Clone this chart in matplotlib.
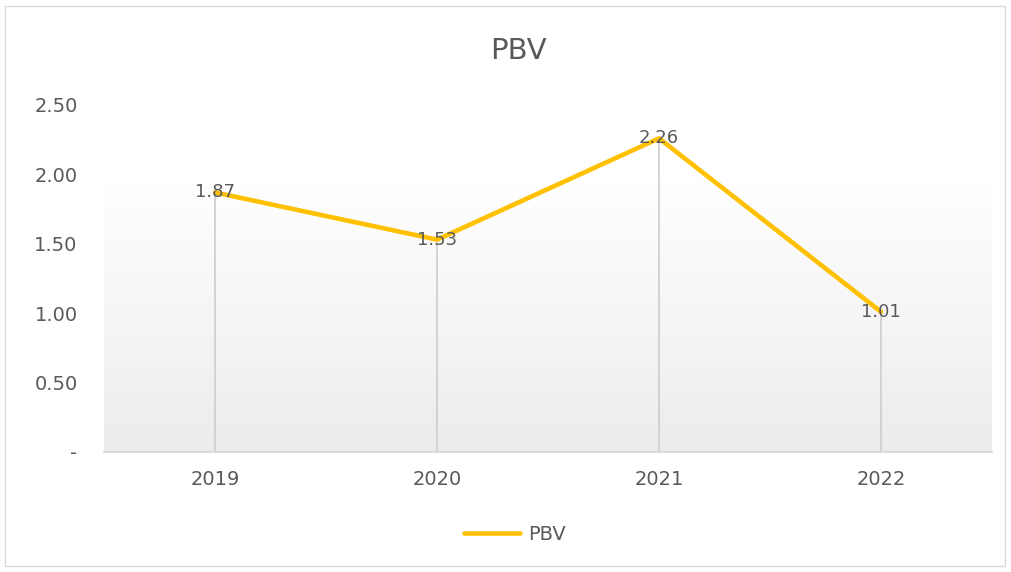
import matplotlib
matplotlib.use("Agg")
import matplotlib.pyplot as plt
import numpy as np
from matplotlib.patches import Rectangle
from matplotlib.colors import LinearSegmentedColormap

years = ["2019", "2020", "2021", "2022"]
pbv = [1.87, 1.53, 2.26, 1.01]
yticks = [0, 0.5, 1.0, 1.5, 2.0, 2.5]
ytick_labels = ["-", "0.50", "1.00", "1.50", "2.00", "2.50"]

plt.rcParams['font.family'] = ['DejaVu Sans']

W, H = 1011, 572
fig = plt.figure(figsize=(W / 100, H / 100), dpi=100)
fig.patches.append(Rectangle((5 / W, 6 / H), 1000 / W, 560 / H, transform=fig.transFigure,
                             fill=False, edgecolor='#d9d9d9', linewidth=1))
ax = fig.add_axes([104 / W, 120 / H, 888 / W, 347 / H])

x = np.arange(len(years))
ax.set_xlim(-0.5, len(years) - 0.5)
ax.set_ylim(0, 2.5)

# gradient background
grad = np.linspace(0, 1, 256).reshape(-1, 1)
cmap = LinearSegmentedColormap.from_list('g', ['#ececec', '#ffffff'])
ax.imshow(grad, extent=(-0.5, len(years) - 0.5, 0, 1.96), origin='lower',
          aspect='auto', cmap=cmap, zorder=0)

# drop lines
ax.vlines(x, 0, pbv, colors='#d0d0d0', linewidth=1.3, zorder=1)

ax.plot(x, pbv, color='#FFC000', linewidth=3.3, solid_capstyle='round', label='PBV', zorder=2)
for xi, v in zip(x, pbv):
    ax.text(xi, v, f"{v:.2f}", ha='center', va='center', fontsize=13, color='#595959', zorder=3)

ax.set_xticks(x)
ax.set_xticklabels(years, fontsize=14, color='#595959')
ax.set_yticks(yticks)
ax.set_yticklabels(ytick_labels, fontsize=14, color='#595959')
ax.tick_params(axis='both', length=0)
ax.tick_params(axis='x', pad=13)
ax.tick_params(axis='y', pad=19)
for s in ['top', 'right', 'left']:
    ax.spines[s].set_visible(False)
ax.spines['bottom'].set_color('#d9d9d9')
ax.spines['bottom'].set_linewidth(1.3)

fig.text(518 / W, 1 - 51 / H, "PBV", ha='center', va='center', fontsize=21, color='#595959')

leg = fig.legend(*ax.get_legend_handles_labels(), loc='center',
                 bbox_to_anchor=(515 / W, 38 / H), frameon=False, fontsize=14,
                 handlelength=2.9, handletextpad=0.4, labelcolor='#595959')

fig.savefig("out.png", dpi=100)
